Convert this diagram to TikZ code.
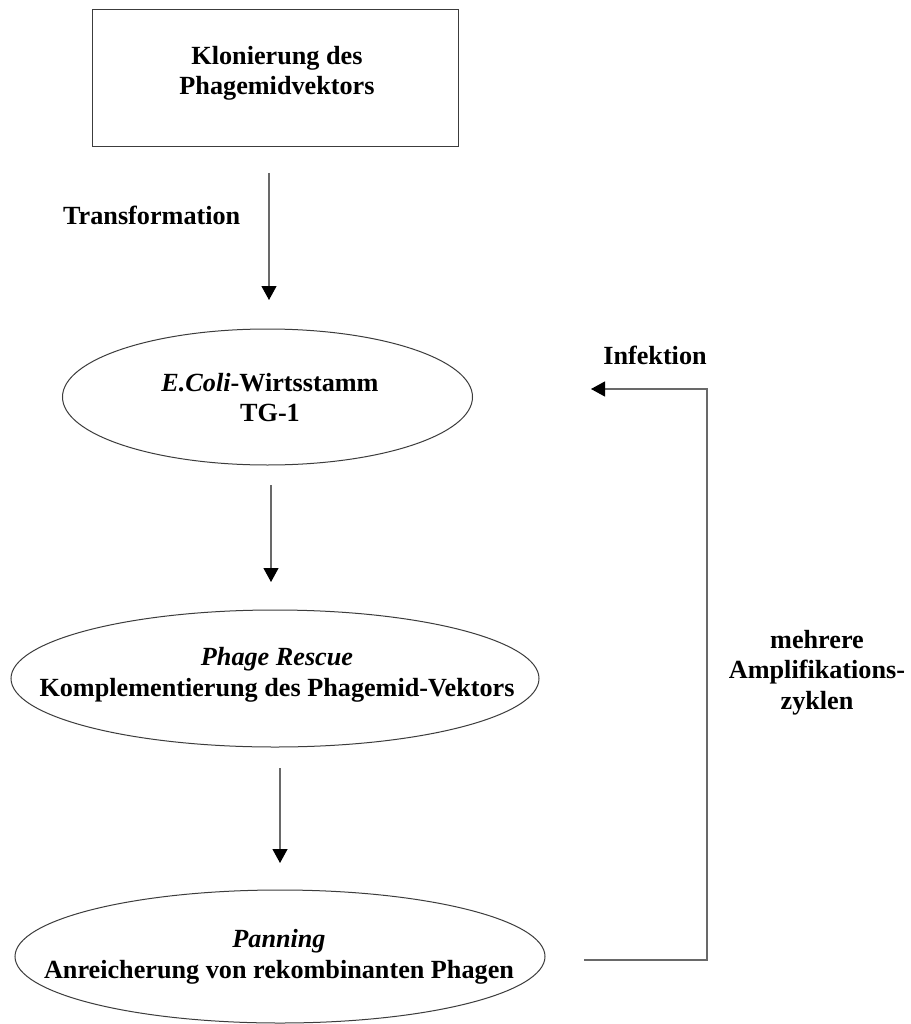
\documentclass[tikz,border=0pt]{standalone}
\usepackage{fontspec}
\setmainfont{Liberation Serif}
\usetikzlibrary{shapes.geometric,arrows.meta}
\definecolor{conncol}{RGB}{105,105,105}
\definecolor{edgecol}{RGB}{60,60,60}
\tikzset{
  txt/.style={font=\fontsize{26.2}{30.5}\selectfont\bfseries, align=center, inner sep=0pt},
  stepbox/.style={draw=edgecol, line width=1pt, minimum width=366pt, minimum height=137pt, inner sep=0pt},
  stepell/.style={draw=edgecol, line width=1pt, ellipse, inner sep=0pt},
  conn/.style={draw=conncol, line width=1.2pt},
  arr/.style={conn, -{Triangle[length=14pt,width=15pt,black]}}
}
\begin{document}
\begin{tikzpicture}[x=1pt,y=-1pt]
\useasboundingbox[fill=white] (0,0) rectangle (910,1024);

% box
\node[stepbox] (box) at (275,78.5) {};
\node[txt] (boxt) at (277,73.5) {Klonierung des\\Phagemidvektors};

% ellipses
\node[stepell, minimum width=410pt, minimum height=136pt] (e1) at (267.5,397) {};
\node[txt] (e1t) at (270,397.5) {\textit{E.Coli}-Wirtsstamm\\TG-1};

\node[stepell, minimum width=528pt, minimum height=137pt] (e2) at (275,678.5) {};
\node[txt] (e2t) at (277,675) {\textit{Phage Rescue}\\Komplementierung des Phagemid-Vektors};

\node[stepell, minimum width=530pt, minimum height=133pt] (e3) at (280,956.5) {};
\node[txt] (e3t) at (279,957) {\textit{Panning}\\Anreicherung von rekombinanten Phagen};

% labels
\node[txt, anchor=west] (ltrans) at (63,215) {Transformation};
\node[txt] (linf) at (655,355) {Infektion};
\node[txt] (lcyc) at (817,672.5) {mehrere\\Amplifikations-\\zyklen};

% main arrows
\coordinate (a1s) at (269,173);
\coordinate (a1e) at (269,300);
\draw[arr] (a1s) -- (a1e);
\coordinate (a2s) at (271,485);
\coordinate (a2e) at (271,582);
\draw[arr] (a2s) -- (a2e);
\coordinate (a3s) at (280,768);
\coordinate (a3e) at (280,863);
\draw[arr] (a3s) -- (a3e);

% feedback loop
\coordinate (fbs) at (584,960);
\coordinate (fbc1) at (707,960);
\coordinate (fbc2) at (707,389);
\coordinate (fbe) at (591,389);
\draw[arr] (fbs) -- (fbc1) -- (fbc2) -- (fbe);
\end{tikzpicture}
\end{document}
